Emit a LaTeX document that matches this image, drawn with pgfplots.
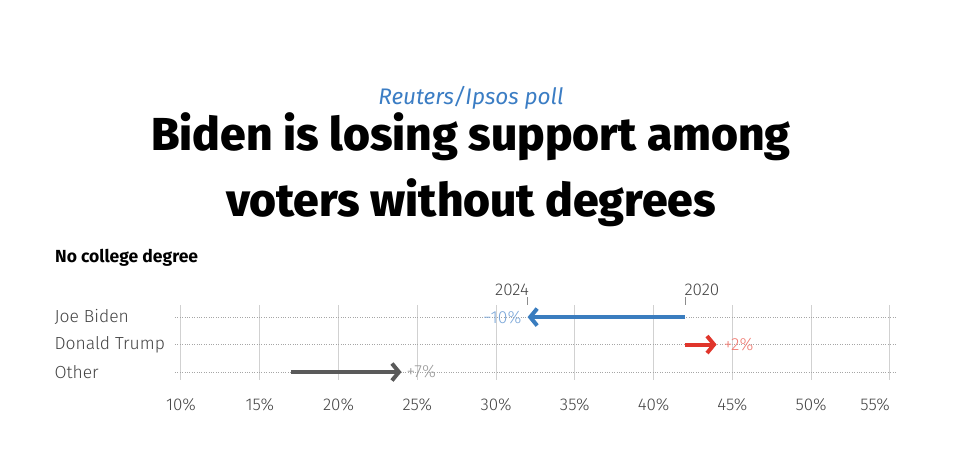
\documentclass[border=0pt]{standalone}
\usepackage{fontspec}
\setmainfont{Fira Sans}
\newfontfamily\lightfont{Fira Sans Light}
\newfontfamily\heavyfont{Fira Sans ExtraBold}
\usepackage{pgfplots}
\pgfplotsset{compat=1.18}
\usetikzlibrary{arrows.meta}
\definecolor{biden}{HTML}{3A7DBF}
\definecolor{bidenlt}{HTML}{7BA7D9}
\definecolor{trump}{HTML}{E0352B}
\definecolor{trumplt}{HTML}{F07B72}
\definecolor{other}{HTML}{5A5A5A}
\definecolor{otherlt}{HTML}{9A9A9A}
\definecolor{subblue}{HTML}{3B7DC4}
\definecolor{txt}{HTML}{444444}
\begin{document}
\begin{tikzpicture}[x=1pt,y=1pt]
\useasboundingbox (0,0) rectangle (966,449);
\fill[white] (0,0) rectangle (966,449);
\node[text=subblue, font=\itshape\fontsize{22.5}{22.5}\selectfont] at (471,351) {Reuters/Ipsos poll};
\node[font=\heavyfont\fontsize{46.2}{46.2}\selectfont] at (471,312) {Biden is losing support among};
\node[font=\heavyfont\fontsize{46.2}{46.2}\selectfont] at (471,246) {voters without degrees};
\node[anchor=west, inner sep=0, font=\bfseries\fontsize{17.5}{17.5}\selectfont] at (55,191) {No college degree};
\begin{axis}[
  at={(175pt,69pt)}, anchor=south west,
  scale only axis, width=722pt, height=75pt,
  xmin=9.62, xmax=55.45, ymin=0.71, ymax=3.44,
  axis line style={draw=none}, major tick length=0pt,
  xtick={10,15,20,25,30,35,40,45,50,55},
  xticklabels={10\%,15\%,20\%,25\%,30\%,35\%,40\%,45\%,50\%,\makebox[0pt][r]{55\%}},
  ytick={1,2,3},
  yticklabels={Other,Donald Trump,Joe Biden},
  xmajorgrids, ymajorgrids,
  major x grid style={draw=black!18, line width=1pt},
  major y grid style={draw=black!35, dotted, line width=0.6pt},
  xticklabel style={font=\lightfont\fontsize{17}{17}\selectfont, text=txt, yshift=-15pt},
  yticklabel style={font=\lightfont\fontsize{17.5}{17.5}\selectfont, text=txt, anchor=west, xshift=-124pt},
  /pgf/number format/assume math mode=true,
  clip=false,
]
\addplot[biden, line width=4pt, -{Straight Barb[length=7pt,width=17pt]}] coordinates {(42,3) (32,3)};
\addplot[trump, line width=4pt, -{Straight Barb[length=7pt,width=17pt]}] coordinates {(42,2) (44,2)};
\addplot[other, line width=4pt, -{Straight Barb[length=7pt,width=17pt]}] coordinates {(17,1) (24,1)};
\node[anchor=east, inner sep=0, text=bidenlt, font=\lightfont\fontsize{17.5}{17.5}\selectfont, xshift=-6pt] at (axis cs:32,3) {−10\%};
\node[anchor=west, inner sep=0, text=trumplt, font=\lightfont\fontsize{17.5}{17.5}\selectfont, xshift=7pt] at (axis cs:44,2) {+2\%};
\node[anchor=west, inner sep=0, text=otherlt, font=\lightfont\fontsize{17.5}{17.5}\selectfont, xshift=5pt] at (axis cs:24,1) {+7\%};
\draw[black!45, line width=0.8pt] (axis cs:32,3.44) -- ++(0pt,8pt);
\draw[black!45, line width=0.8pt] (axis cs:42,3.44) -- ++(0pt,8pt);
\node[anchor=east, inner sep=0, text=txt, font=\lightfont\fontsize{17}{17}\selectfont] at ([yshift=15pt]axis cs:32.1,3.44) {2024};
\node[anchor=west, inner sep=0, text=txt, font=\lightfont\fontsize{17}{17}\selectfont] at ([yshift=15pt]axis cs:41.95,3.44) {2020};
\end{axis}
\end{tikzpicture}
\end{document}
